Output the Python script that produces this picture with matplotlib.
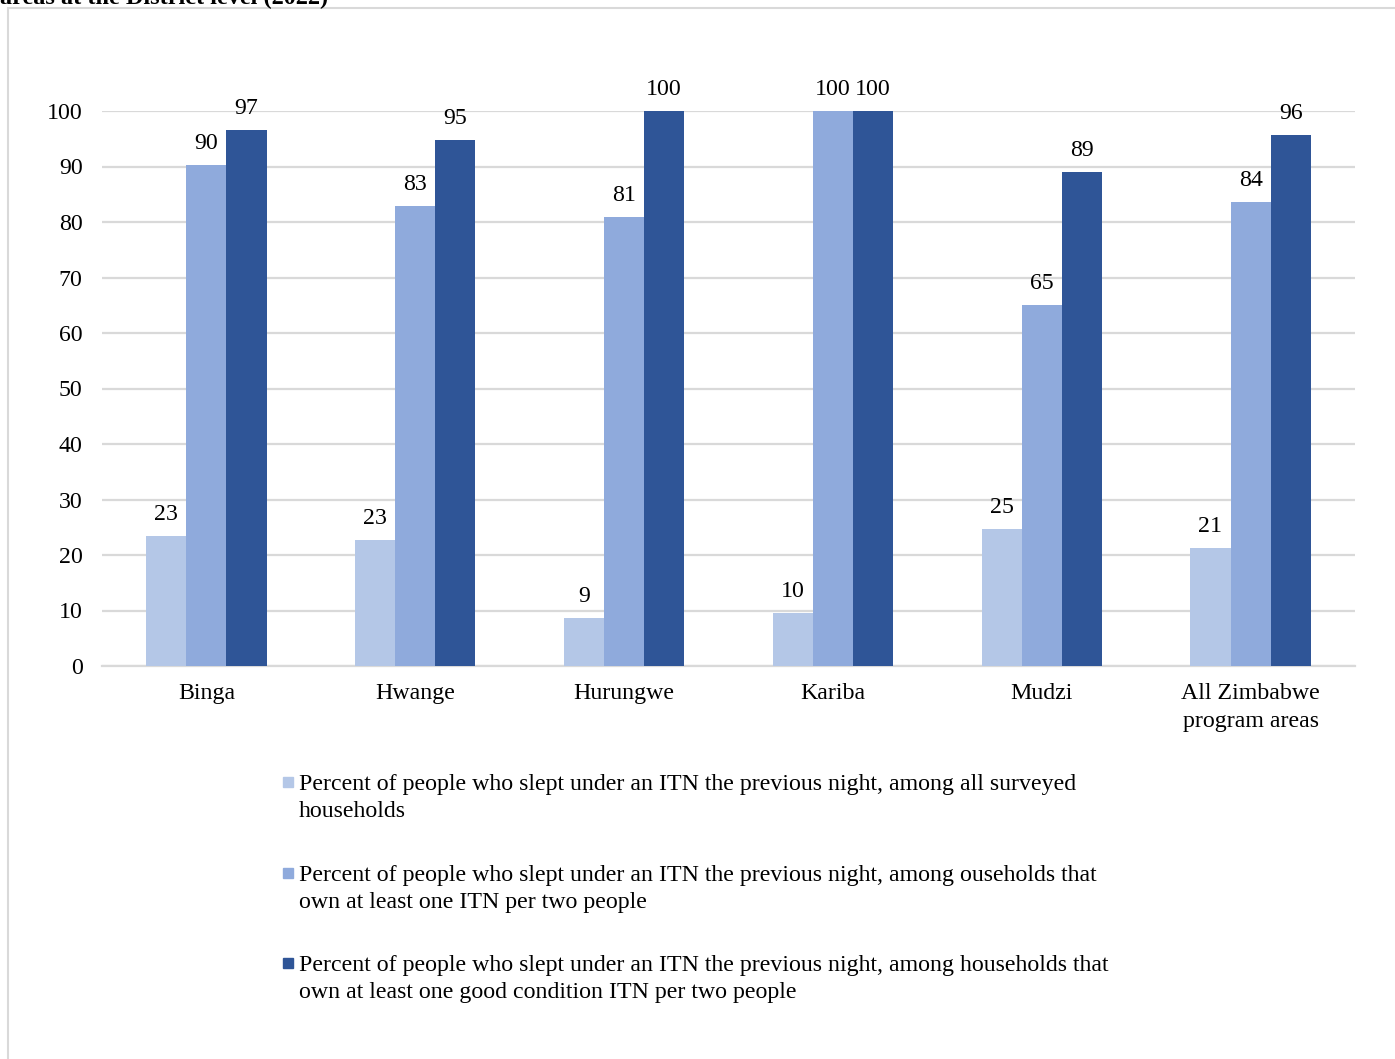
import matplotlib.pyplot as plt
import numpy as np
from matplotlib.patches import Rectangle

plt.rcParams['font.family'] = ['Liberation Serif', 'DejaVu Serif']

# Data
districts = ["Binga", "Hwange", "Hurungwe", "Kariba", "Mudzi", "All Zimbabwe\nprogram areas"]
all_households = [23.4, 22.7, 8.6, 9.6, 24.6, 21.3]
one_itn_per_two = [90.3, 82.9, 80.9, 100, 65.0, 83.6]
good_itn_per_two = [96.6, 94.8, 100, 100, 89.0, 95.7]

series_labels = [
    "Percent of people who slept under an ITN the previous night, among all surveyed\nhouseholds",
    "Percent of people who slept under an ITN the previous night, among ouseholds that\nown at least one ITN per two people",
    "Percent of people who slept under an ITN the previous night, among households that\nown at least one good condition ITN per two people",
]
colors = ["#b4c7e7", "#8faadc", "#2f5597"]
FS = 17.2

fig = plt.figure(figsize=(13.95, 10.59), dpi=100)
ax = fig.add_axes([102 / 1395, 1 - 666 / 1059, (1355 - 102) / 1395, (666 - 111) / 1059])

x = np.arange(len(districts))
w = 0.192
for i, vals in enumerate([all_households, one_itn_per_two, good_itn_per_two]):
    bars = ax.bar(x + (i - 1) * w, vals, w, color=colors[i], zorder=3)
    for b, v in zip(bars, vals):
        ax.annotate(f"{v:.0f}", (b.get_x() + b.get_width() / 2, v),
                    xytext=(0, 8), textcoords="offset points",
                    ha="center", va="bottom", fontsize=FS, annotation_clip=False)

ax.set_xlim(-0.5, len(districts) - 0.5)
ax.set_ylim(0, 100)
ax.set_yticks(range(0, 101, 10))
ax.set_xticks(x)
ax.set_xticklabels(districts, fontsize=FS, linespacing=1.4)
ax.tick_params(axis="y", length=0, pad=14, labelsize=FS)
ax.tick_params(axis="x", length=0, pad=12.5)
ax.grid(axis="y", color="#d9d9d9", linewidth=1.6, zorder=0)
for s in ["top", "right", "left"]:
    ax.spines[s].set_visible(False)
ax.spines["bottom"].set_color("#d9d9d9")
ax.spines["bottom"].set_linewidth(1.6)

# legend drawn by hand, square on the first line
leg_y = [782, 873, 963]
for lab, c, yy in zip(series_labels, colors, leg_y):
    fig.patches.append(Rectangle((283 / 1395, 1 - (yy + 5) / 1059), 10 / 1395, 10 / 1059,
                                 transform=fig.transFigure, color=c))
    fig.text(299 / 1395, 1 - (yy - 8) / 1059, lab, fontsize=FS, va="top",
             ha="left", linespacing=1.4)

# outer frame and clipped caption
fig.patches.append(Rectangle((8 / 1395, -0.05), 1.2, 1 - 8 / 1059 + 0.05,
                             transform=fig.transFigure, fill=False,
                             edgecolor="#d9d9d9", linewidth=1.5))
fig.text(0.0, 1 - 4 / 1059, "areas at the District level (2022)", fontsize=17.5,
         fontweight="bold", va="baseline", ha="left")

fig.savefig("out.png", dpi=100)
